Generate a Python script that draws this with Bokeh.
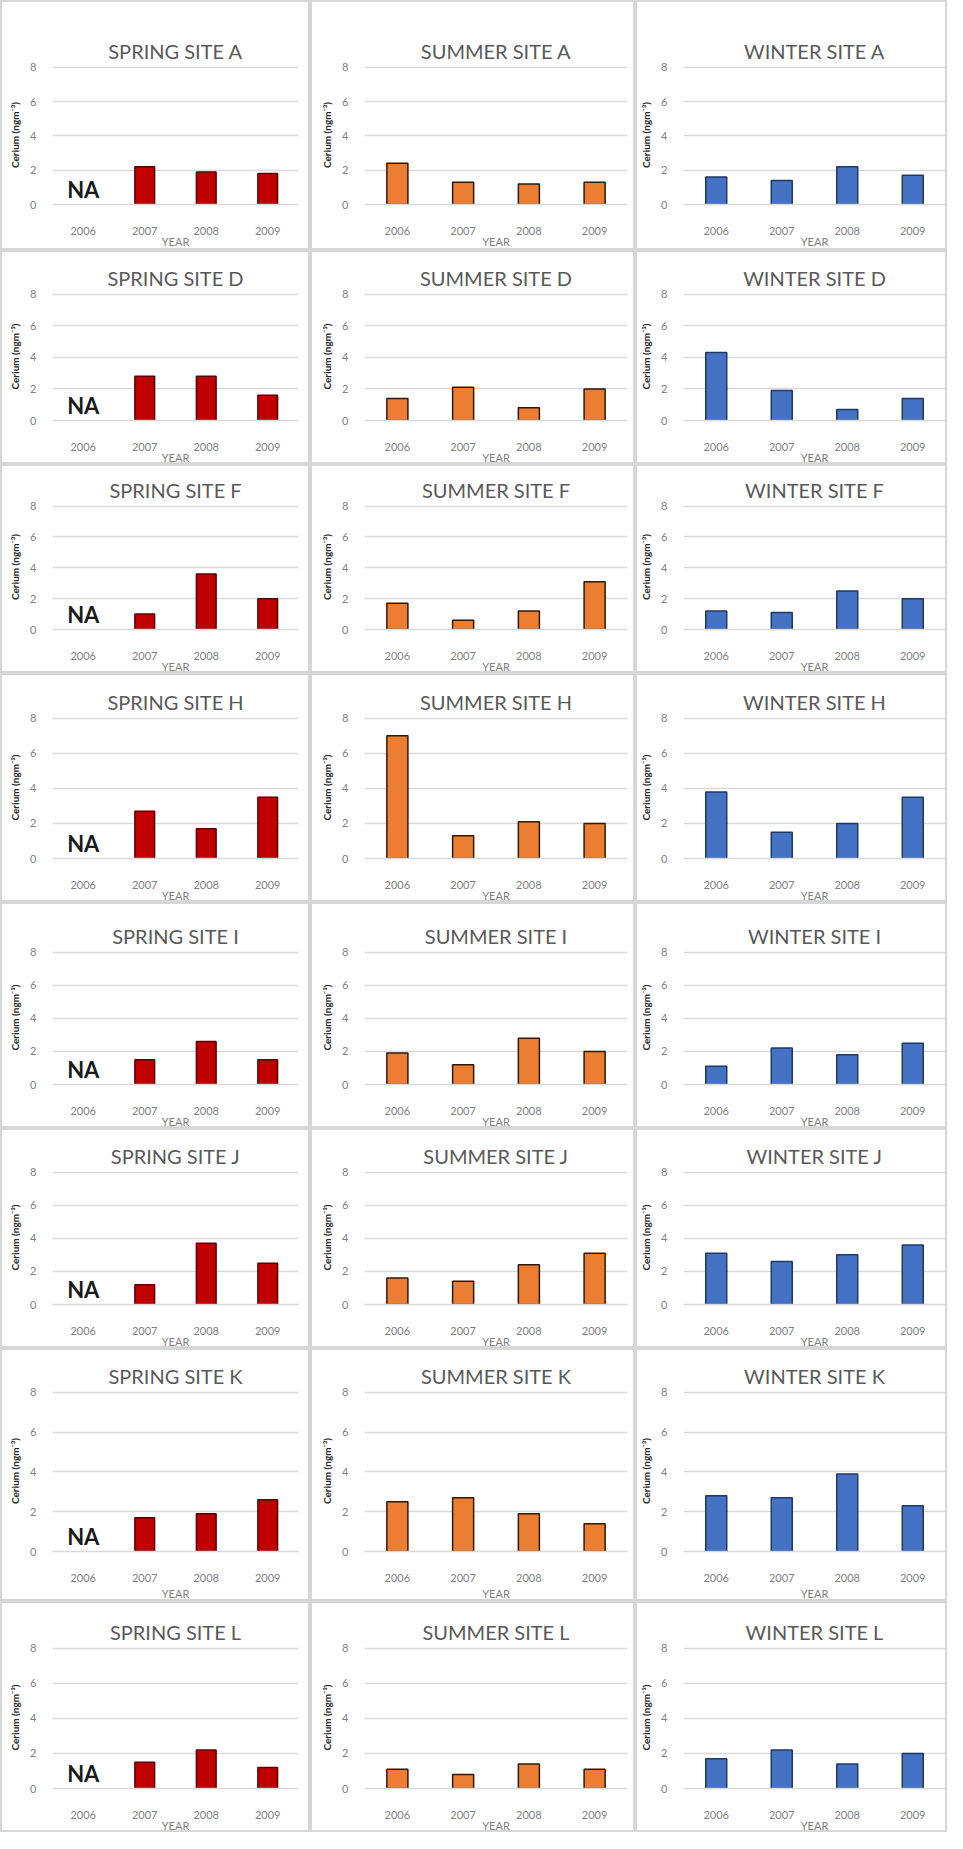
from bokeh.plotting import figure
from bokeh.layouts import gridplot
from bokeh.models import ColumnDataSource, Range1d, FactorRange
from bokeh.core.properties import value
from bokeh.embed import file_html
from bokeh.resources import INLINE

years = ["2006", "2007", "2008", "2009"]
sites = ["A", "D", "F", "H", "I", "J", "K", "L"]
seasons = ["SPRING", "SUMMER", "WINTER"]

# Cerium concentrations (ngm-3); None = NA
spring_values = [
    [None, 2.2, 1.9, 1.8],
    [None, 2.8, 2.8, 1.6],
    [None, 1.0, 3.6, 2.0],
    [None, 2.7, 1.7, 3.5],
    [None, 1.5, 2.6, 1.5],
    [None, 1.2, 3.7, 2.5],
    [None, 1.7, 1.9, 2.6],
    [None, 1.5, 2.2, 1.2],
]
summer_values = [
    [2.4, 1.3, 1.2, 1.3],
    [1.4, 2.1, 0.8, 2.0],
    [1.7, 0.6, 1.2, 3.1],
    [7.0, 1.3, 2.1, 2.0],
    [1.9, 1.2, 2.8, 2.0],
    [1.6, 1.4, 2.4, 3.1],
    [2.5, 2.7, 1.9, 1.4],
    [1.1, 0.8, 1.4, 1.1],
]
winter_values = [
    [1.6, 1.4, 2.2, 1.7],
    [4.3, 1.9, 0.7, 1.4],
    [1.2, 1.1, 2.5, 2.0],
    [3.8, 1.5, 2.0, 3.5],
    [1.1, 2.2, 1.8, 2.5],
    [3.1, 2.6, 3.0, 3.6],
    [2.8, 2.7, 3.9, 2.3],
    [1.7, 2.2, 1.4, 2.0],
]

season_values = {"SPRING": spring_values, "SUMMER": summer_values, "WINTER": winter_values}
fill_colors = {"SPRING": "#C00000", "SUMMER": "#ED7D31", "WINTER": "#4472C4"}
line_colors = {"SPRING": "#5a0000", "SUMMER": "#2b1a0c", "WINTER": "#1f3864"}

# layout (pixels)
row_heights = [250, 214, 209, 229, 226, 220, 253, 231]
row_tops = [63, 40, 38, 41, 46, 40, 40, 43]
row_bottoms = [48, 42, 42, 42, 44, 44, 52, 42]
col_widths = [310, 325, 312]
col_lefts = [50, 52, 42]
col_rights = [14, 10, 4]

FONT = "Lato"


def make_panel(ci, si):
    season = seasons[ci]
    vals = season_values[season][si]
    p = figure(
        width=col_widths[ci], height=row_heights[si],
        x_range=FactorRange(*years, range_padding=0.0),
        y_range=Range1d(0, 8.1),
        output_backend="svg", toolbar_location=None,
        title=f"{season} SITE {sites[si]}",
        min_border_left=col_lefts[ci], min_border_right=col_rights[ci],
        min_border_top=row_tops[si], min_border_bottom=row_bottoms[si],
    )
    p.styles = {"border": "2px solid #d6d6d6", "box-sizing": "border-box"}
    p.outline_line_color = None
    p.title.align = "center"
    p.title.text_font = FONT
    p.title.text_font_size = "20px"
    p.title.text_font_style = "normal"
    p.title.text_color = "#595959"
    p.title.standoff = 6

    xs = [y for y, v in zip(years, vals) if v is not None]
    tops = [v for v in vals if v is not None]
    src = ColumnDataSource(dict(x=xs, top=tops))
    p.vbar(x="x", top="top", width=0.32, source=src,
           fill_color=fill_colors[season], line_color=line_colors[season], line_width=1.5)

    if vals[0] is None:
        na_src = ColumnDataSource(dict(x=[years[0]], y=[0.1], t=["NA"]))
        p.text(x="x", y="y", text="t", source=na_src, text_align="center",
               text_baseline="bottom", text_font=value(FONT), text_font_size="22px",
               text_font_style="bold", text_color="#1a1a1a")

    p.xgrid.grid_line_color = None
    p.ygrid.grid_line_color = "#d9d9d9"
    p.ygrid.grid_line_width = 1.5
    p.yaxis.ticker = [0, 2, 4, 6, 8]
    p.yaxis.axis_line_color = None
    p.yaxis.major_tick_line_color = None
    p.yaxis.minor_tick_line_color = None
    p.yaxis.major_label_text_font = FONT
    p.yaxis.major_label_text_font_size = "11px"
    p.yaxis.major_label_text_color = "#7f7f7f"
    p.yaxis.major_label_standoff = 10
    p.yaxis.axis_label = "Cerium (ngm\u207b\u00b3)"
    p.yaxis.axis_label_text_font = FONT
    p.yaxis.axis_label_text_font_size = "10px"
    p.yaxis.axis_label_text_font_style = "bold"
    p.yaxis.axis_label_text_color = "#262626"
    p.yaxis.axis_label_standoff = 6

    p.xaxis.axis_line_color = "#d9d9d9"
    p.xaxis.axis_line_width = 1.5
    p.xaxis.major_tick_line_color = None
    p.xaxis.minor_tick_line_color = None
    p.xaxis.major_label_text_font = FONT
    p.xaxis.major_label_text_font_size = "11px"
    p.xaxis.major_label_text_color = "#7f7f7f"
    p.xaxis.major_label_standoff = 16
    p.xaxis.axis_label = "YEAR"
    p.xaxis.axis_label_text_font = FONT
    p.xaxis.axis_label_text_font_size = "11px"
    p.xaxis.axis_label_text_font_style = "normal"
    p.xaxis.axis_label_text_color = "#7f7f7f"
    p.xaxis.axis_label_standoff = 2 if sites[si] == "K" else -3
    return p


rows = []
for si in range(len(sites)):
    rows.append([make_panel(ci, si) for ci in range(len(seasons))])

grid = gridplot(rows, toolbar_location=None)

open("out.html", "w").write(file_html(grid, INLINE))
